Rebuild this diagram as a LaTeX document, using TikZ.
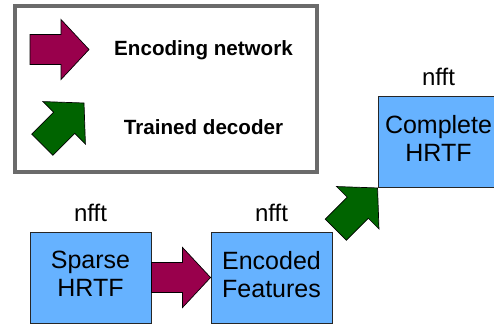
\documentclass[tikz,border=0pt]{standalone}
\usepackage{fontspec}
\setmainfont{Liberation Sans}
\definecolor{boxblue}{HTML}{66B2FF}
\definecolor{encmag}{HTML}{99004C}
\definecolor{decgreen}{HTML}{006400}
\definecolor{legendgray}{HTML}{6B6B6B}
\tikzset{
  hrtfbox/.style={draw=black!85, line width=0.9pt, fill=boxblue, minimum width=121pt, minimum height=91pt,
    inner sep=0pt, align=center, text depth=7pt, font=\fontsize{25}{28}\selectfont},
  sizelbl/.style={inner sep=0pt, anchor=south, font=\fontsize{24}{28}\selectfont},
  legendtxt/.style={inner sep=0pt, font=\bfseries\fontsize{20.6}{24}\selectfont},
  fatarrow/.pic={\draw[pic actions, draw=black, line width=0.7pt, line join=miter]
     (-59,-15) -- (-28,-15) -- (-28,-30) -- (0,0) -- (-28,30) -- (-28,15) -- (-59,15) -- cycle;},
}
\begin{document}
\begin{tikzpicture}[x=1pt,y=-1pt]
\useasboundingbox (0,0) rectangle (494,325);
\clip (0,0) rectangle (494,325);
% legend
\draw[legendgray, line width=4pt] (14.7,6) rectangle (317,171.5);
\coordinate (legmag) at (89,49.5);
\coordinate (leggreen) at (84,103);
\pic[fill=encmag] at (legmag) {fatarrow};
\pic[fill=decgreen, rotate=45] at (leggreen) {fatarrow};
\node[legendtxt] (enctxt) at (203.5,50) {Encoding network};
\node[legendtxt] (dectxt) at (203.5,127) {Trained decoder};
% boxes
\node[hrtfbox] (sparse) at (90.5,277.5) {Sparse\\HRTF};
\node[hrtfbox] (encoded) at (271.5,277.5) {Encoded\\Features};
\node[hrtfbox] (complete) at (438.5,142) {Complete\\HRTF};
\node[sizelbl] (nsparse) at ([yshift=10pt]sparse.north) {nfft};
\node[sizelbl] (nencoded) at ([yshift=10pt]encoded.north) {nfft};
\node[sizelbl] (ncomplete) at ([yshift=10pt]complete.north) {nfft};
% connectors
\pic[fill=encmag] at (encoded.west) {fatarrow};
\pic[fill=decgreen, rotate=45] at (complete.south west) {fatarrow};
\end{tikzpicture}
\end{document}
